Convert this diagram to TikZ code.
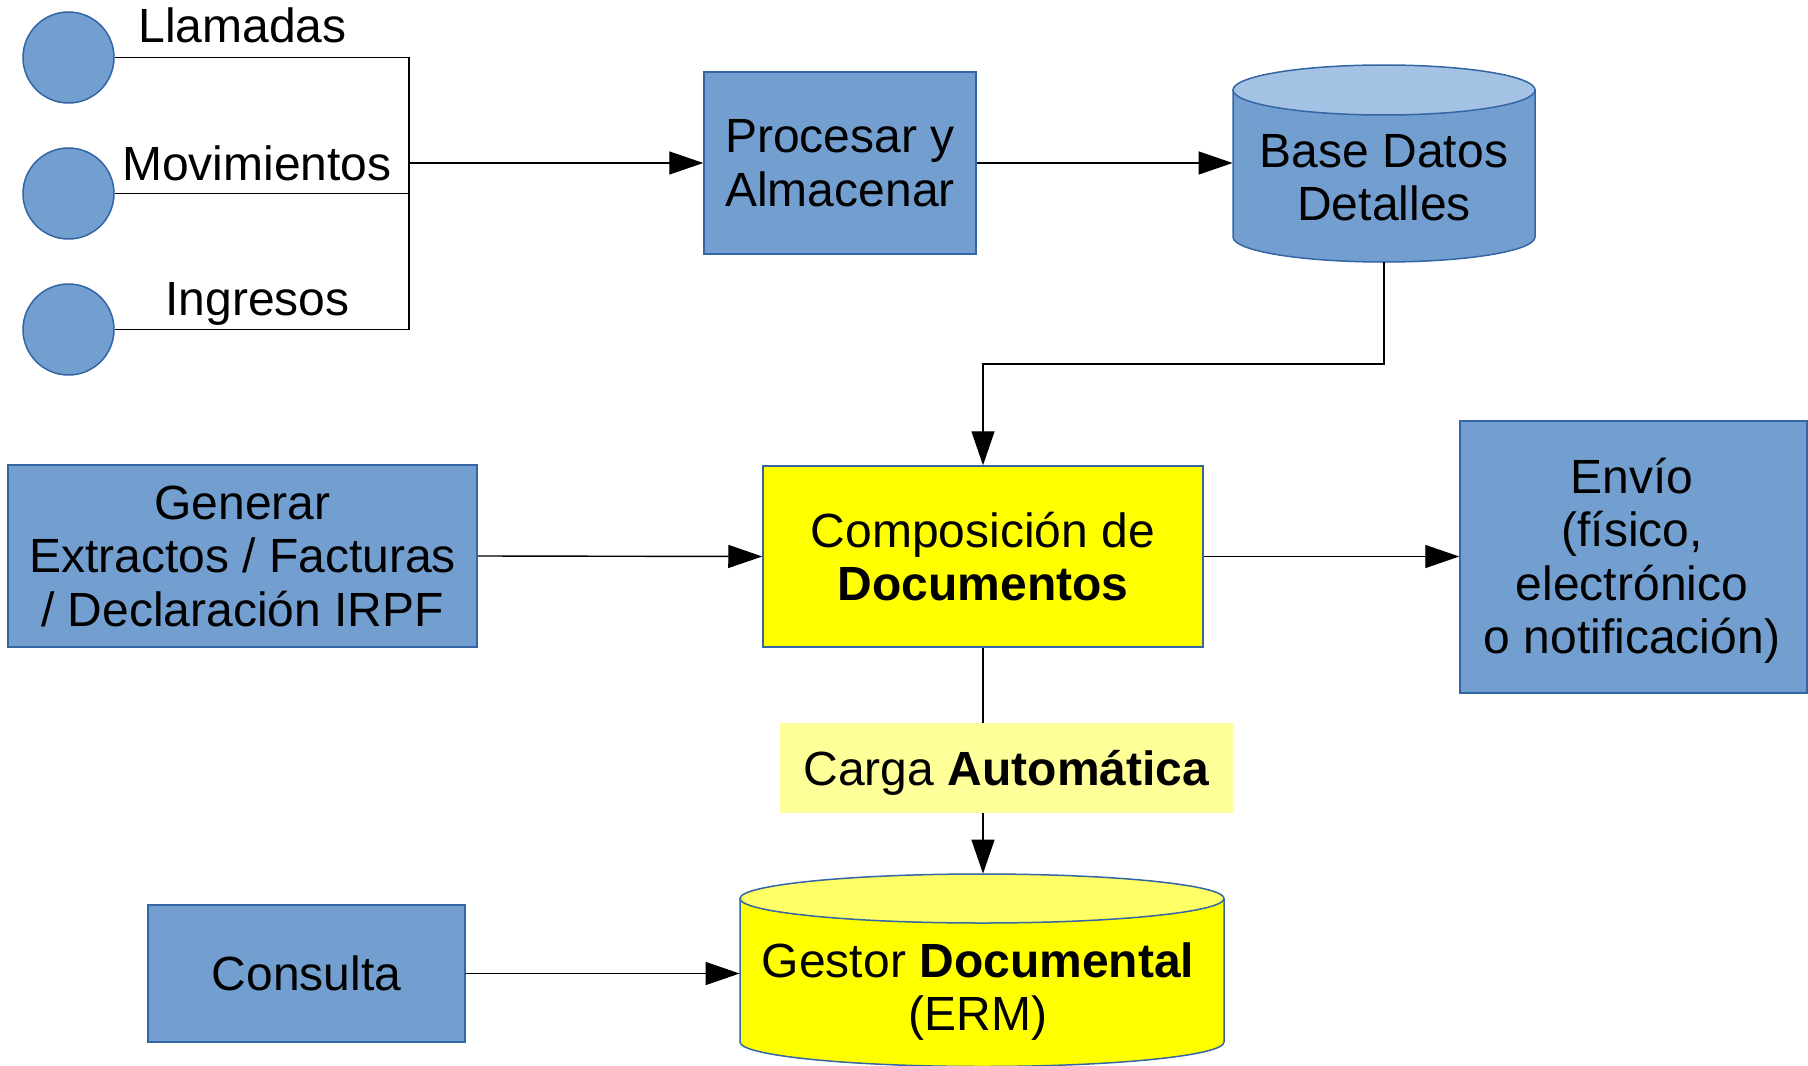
\documentclass[tikz,border=0pt]{standalone}
\usepackage{fontspec}
\setmainfont{Liberation Sans}
\usetikzlibrary{arrows.meta}
\definecolor{bfill}{HTML}{729FCF}
\definecolor{bline}{HTML}{3465A4}
\definecolor{btop}{HTML}{A4C2E3}
\definecolor{yfill}{HTML}{FFFF00}
\definecolor{ytop}{HTML}{FFFF66}
\definecolor{cfill}{HTML}{FFFF99}
\tikzset{
  txt/.style={font=\fontsize{24}{26.75}\selectfont, align=center, inner sep=0pt},
  bluebox/.style={txt, rectangle, draw=bline, fill=bfill, line width=0.75pt},
  yelbox/.style={txt, rectangle, draw=bline, fill=yfill, line width=0.75pt},
  dot/.style={circle, draw=bline, fill=bfill, line width=0.75pt, minimum size=45.5pt, inner sep=0pt},
  conn/.style={draw=black, line width=0.7pt},
  arr/.style={conn, -{Triangle[length=17pt,width=11.5pt]}},
  area/.style={rectangle, inner sep=0pt}
}
\begin{document}
\begin{tikzpicture}[x=0.5pt,y=-0.5pt]
\useasboundingbox (0,0) rectangle (1808,1065);
% source circles
\node[dot] (c1) at (68.5,57.5) {};
\node[dot] (c2) at (68.5,193.5) {};
\node[dot] (c3) at (68.5,329.5) {};
\node[txt, anchor=base] (l1) at (242.5,43) {Llamadas};
\node[txt, anchor=base] (l2) at (257,180) {Movimientos};
\node[txt, anchor=base] (l3) at (257.5,315) {Ingresos};
% boxes
\node[bluebox, minimum width=136pt, minimum height=91pt] (proc) at (840,163) {Procesar y\\Almacenar};
\node[bluebox, minimum width=234.5pt, minimum height=91pt] (gen) at (242.5,556) {Generar\\Extractos / Facturas\\/ Declaración IRPF};
\node[yelbox, minimum width=220pt, minimum height=90.5pt] (comp) at (983,556.5) {Composición de\\\textbf{Documentos}};
\node[bluebox, minimum width=173.5pt, minimum height=136pt] (envio) at (1633.5,557) {};
\node[txt] (envioT) at (1632,561) {Envío\\(físico,\\electrónico\\o notificación)};
\node[bluebox, minimum width=158.5pt, minimum height=68.5pt] (cons) at (306.5,973.5) {Consulta};
% cylinder: Base Datos Detalles
\path[fill=bfill, draw=bline, line width=0.75pt] (1233,90) -- (1233,237) arc[start angle=180, end angle=0, x radius=151, y radius=25] -- (1535,90) -- cycle;
\path[fill=btop, draw=bline, line width=0.75pt] (1384,90) ellipse[x radius=151, y radius=25];
\node[area, minimum width=151pt, minimum height=98.5pt] (bd) at (1384,163.5) {};
\node[txt] (bdT) at (1384,177.5) {Base Datos\\Detalles};
% cylinder: Gestor Documental
\path[fill=yfill, draw=bline, line width=0.75pt] (740,898.5) -- (740,1042) arc[start angle=180, end angle=0, x radius=242, y radius=24.5] -- (1224,898.5) -- cycle;
\path[fill=ytop, draw=bline, line width=0.75pt] (982,898.5) ellipse[x radius=242, y radius=24.5];
\node[area, minimum width=242pt, minimum height=95.5pt] (gest) at (982,969.5) {};
\node[txt] (gestT) at (978,991.5) {Gestor \textbf{Documental}\\(ERM)};
% connectors
\coordinate (junc) at (409,163);
\draw[conn] (c1.east) -| (junc);
\draw[conn] (c3.east) -| (junc);
\draw[conn] (c2.east) -- (c2.east -| junc);
\draw[arr] (junc) -- (proc.west);
\draw[arr] (proc.east) -- (proc.east -| bd.west);
\coordinate (bend) at (983,364);
\draw[arr] (bd.south) |- (bend) -- (comp.north);
\draw[arr] (gen.east) -- (comp.west);
\draw[arr] (comp.east) -- (comp.east -| envio.west);
\draw[arr] (comp.south) -- (comp.south |- gest.north);
\draw[arr] (cons.east) -- (cons.east -| gest.west);
% label on the loading connector
\node[txt, fill=cfill, text depth=0pt, minimum width=226.5pt, minimum height=45pt] (carga) at (1006.5,768) {Carga \textbf{Automática}};
\end{tikzpicture}
\end{document}
